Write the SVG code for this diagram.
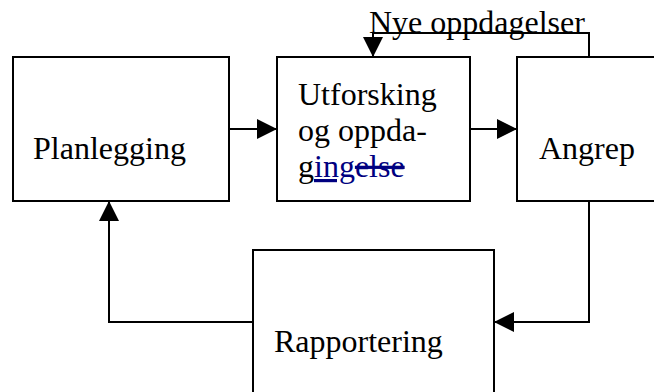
<svg xmlns="http://www.w3.org/2000/svg" width="654" height="392" viewBox="0 0 654 392">
<style>
.box{fill:#fff;stroke:#000;stroke-width:2}
.t{font-family:"Liberation Serif","Times New Roman",serif;font-size:32px;fill:#000}
.c{fill:none;stroke:#000;stroke-width:2}
.blue{fill:#000080}
</style>
<defs>
<marker id="arr" viewBox="0 0 20 20" refX="20" refY="10" markerWidth="20" markerHeight="20" markerUnits="userSpaceOnUse" orient="auto">
<path d="M0,0 L20,10 L0,20 Z" fill="#000"/>
</marker>
</defs>
<g id="connectors">
<line class="c" x1="229" y1="129" x2="277" y2="129" marker-end="url(#arr)"/>
<line class="c" x1="470" y1="129" x2="517" y2="129" marker-end="url(#arr)"/>
<polyline class="c" points="589,57 589,33 373,33 373,57" marker-end="url(#arr)"/>
<polyline class="c" points="589,201 589,322 494,322" marker-end="url(#arr)"/>
<polyline class="c" points="253,322 109,322 109,201" marker-end="url(#arr)"/>
</g>
<g id="planlegging">
<rect class="box" x="13" y="57" width="216" height="144"/>
<text class="t" x="33" y="159">Planlegging</text>
</g>
<g id="utforsking">
<rect class="box" x="277" y="57" width="193" height="144"/>
<text class="t" x="298" y="105">Utforsking</text>
<text class="t" x="298" y="141">og oppda-</text>
<text class="t" x="298" y="177">g<tspan class="blue" text-decoration="underline">ing</tspan><tspan class="blue" text-decoration="line-through">else</tspan></text>
</g>
<g id="angrep">
<rect class="box" x="517" y="57" width="150" height="144"/>
<text class="t" x="539" y="159">Angrep</text>
</g>
<g id="rapportering">
<rect class="box" x="253" y="250" width="241" height="160"/>
<text class="t" x="274" y="352">Rapportering</text>
</g>
<text class="t" x="369" y="33">Nye oppdagelser</text>
</svg>
